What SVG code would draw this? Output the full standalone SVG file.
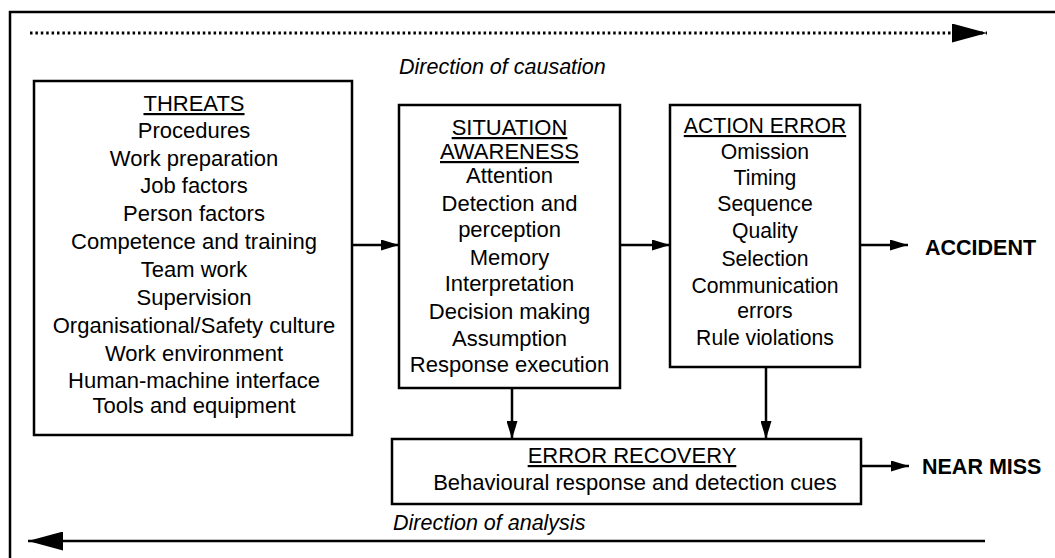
<svg xmlns="http://www.w3.org/2000/svg" width="1055" height="558" viewBox="0 0 1055 558">
  <defs>
    <marker id="tri" viewBox="0 0 18 11" refX="18" refY="5.5" markerWidth="18" markerHeight="11" markerUnits="userSpaceOnUse" orient="auto">
      <path d="M0,0 L18,5.5 L0,11 Z" fill="#000"/>
    </marker>
    <marker id="triBig" viewBox="0 0 35 19" refX="35" refY="9.5" markerWidth="35" markerHeight="19" markerUnits="userSpaceOnUse" orient="auto">
      <path d="M0,0 L35,9.5 L0,19 Z" fill="#000"/>
    </marker>
  </defs>
  <style>
    .box { fill: #fff; stroke: #000; stroke-width: 2.5; }
    .t { font-family: "Liberation Sans", Arial, sans-serif; font-size: 22px; fill: #000; text-anchor: middle; }
    .ae { font-size: 21.2px; }
    .hd { text-decoration: underline; }
    .it { font-family: "Liberation Sans", Arial, sans-serif; font-size: 21.5px; font-style: italic; fill: #000; }
    .out { font-family: "Liberation Sans", Arial, sans-serif; font-size: 21.5px; font-weight: bold; fill: #000; }
    .link { stroke: #000; stroke-width: 2.5; fill: none; }
  </style>

  <rect width="1055" height="558" fill="#fff"/>

  <!-- outer frame (open at right and bottom) -->
  <path d="M10,560 V12 H1057" fill="none" stroke="#000" stroke-width="2.5"/>

  <!-- direction labels -->
  <text class="it" x="399" y="74">Direction of causation</text>
  <text class="it" x="393" y="530">Direction of analysis</text>

  <g id="threats">
    <rect class="box" x="34" y="81" width="318" height="354"/>
    <text class="t hd" x="194" y="111">THREATS</text>
    <text class="t" x="194" y="138">Procedures</text>
    <text class="t" x="194" y="166">Work preparation</text>
    <text class="t" x="194" y="193">Job factors</text>
    <text class="t" x="194" y="221">Person factors</text>
    <text class="t" x="194" y="249">Competence and training</text>
    <text class="t" x="194" y="277">Team work</text>
    <text class="t" x="194" y="305">Supervision</text>
    <text class="t" x="194" y="333">Organisational/Safety culture</text>
    <text class="t" x="194" y="361">Work environment</text>
    <text class="t" x="194" y="388">Human-machine interface</text>
    <text class="t" x="194" y="413">Tools and equipment</text>
  </g>

  <g id="situation-awareness">
    <rect class="box" x="399" y="105" width="221" height="283"/>
    <text class="t hd" x="509.5" y="135">SITUATION</text>
    <text class="t hd" x="509.5" y="159">AWARENESS</text>
    <text class="t" x="509.5" y="183">Attention</text>
    <text class="t" x="509.5" y="211">Detection and</text>
    <text class="t" x="509.5" y="237">perception</text>
    <text class="t" x="509.5" y="265">Memory</text>
    <text class="t" x="509.5" y="291">Interpretation</text>
    <text class="t" x="509.5" y="319">Decision making</text>
    <text class="t" x="509.5" y="346">Assumption</text>
    <text class="t" x="509.5" y="372">Response execution</text>
  </g>

  <g id="action-error">
    <rect class="box" x="670" y="105" width="190" height="262"/>
    <text class="t ae hd" x="765" y="133">ACTION ERROR</text>
    <text class="t ae" x="765" y="159">Omission</text>
    <text class="t ae" x="765" y="185">Timing</text>
    <text class="t ae" x="765" y="211">Sequence</text>
    <text class="t ae" x="765" y="238">Quality</text>
    <text class="t ae" x="765" y="266">Selection</text>
    <text class="t ae" x="765" y="293">Communication</text>
    <text class="t ae" x="765" y="318">errors</text>
    <text class="t ae" x="765" y="345">Rule violations</text>
  </g>

  <g id="error-recovery">
    <rect class="box" x="392" y="439" width="469" height="65"/>
    <text class="t hd" x="632" y="463">ERROR RECOVERY</text>
    <text class="t" x="635" y="490">Behavioural response and detection cues</text>
  </g>

  <g id="accident">
    <text class="out" x="925" y="255">ACCIDENT</text>
  </g>

  <g id="near-miss">
    <text class="out" x="922" y="474">NEAR MISS</text>
  </g>

  <g id="connectors">
    <!-- causation (dotted) and analysis (solid) directions -->
    <line x1="30" y1="33" x2="987" y2="33" stroke="#000" stroke-width="3" stroke-dasharray="2.5 2.9" marker-end="url(#triBig)"/>
    <line x1="985" y1="541" x2="28" y2="541" class="link" marker-end="url(#triBig)"/>
    <!-- flow between boxes -->
    <line x1="352" y1="245" x2="399" y2="245" class="link" marker-end="url(#tri)"/>
    <line x1="620" y1="245" x2="670" y2="245" class="link" marker-end="url(#tri)"/>
    <line x1="860" y1="245" x2="908" y2="245" class="link" marker-end="url(#tri)"/>
    <line x1="512" y1="388" x2="512" y2="439" class="link" marker-end="url(#tri)"/>
    <line x1="766" y1="367" x2="766" y2="439" class="link" marker-end="url(#tri)"/>
    <line x1="861" y1="466" x2="909" y2="466" class="link" marker-end="url(#tri)"/>
  </g>
</svg>
